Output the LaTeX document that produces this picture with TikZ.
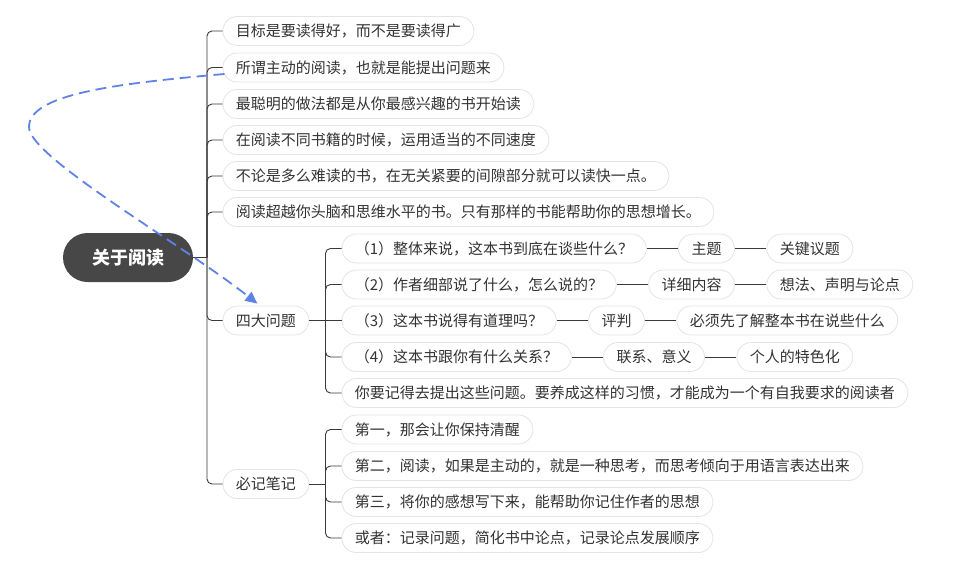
\documentclass[tikz,border=0pt]{standalone}
\usepackage{fontspec}
\setmainfont{Noto Sans CJK SC}
\usetikzlibrary{arrows.meta,positioning}
\definecolor{rootgray}{HTML}{474747}
\definecolor{pillborder}{HTML}{E4E4E4}
\definecolor{txtgray}{HTML}{333333}
\definecolor{linegray}{HTML}{3A3A3A}
\definecolor{dashblue}{HTML}{5E82E6}
\tikzset{
  x=1pt,y=-1pt,
  rootbox/.style={fill=rootgray,rounded corners=24.5pt,minimum width=130pt,minimum height=49pt,
    text=white,font=\fontsize{18}{20}\selectfont\bfseries,inner sep=0pt,text height=16pt,text depth=2pt},
  pill/.style={draw=pillborder,line width=0.8pt,fill=white,rounded corners=14.5pt,minimum height=29pt,
    inner xsep=13pt,inner ysep=0pt,text=txtgray,font=\fontsize{15}{18}\selectfont,
    text height=13pt,text depth=2pt,anchor=west},
  conn/.style={draw=linegray,line width=0.9pt,rounded corners=5pt},
  chain/.style={right=31.5pt of #1},
  link/.style={draw=dashblue,line width=1.8pt,dash pattern=on 11pt off 6pt,
    -{Triangle[length=12pt,width=11pt]}}
}
\begin{document}
\begin{tikzpicture}
\useasboundingbox (0,0) rectangle (960,576);
% root
\node[rootbox] (root) at (128,257.5) {关于阅读};
\coordinate (j0) at (207,257.5);
% level 1
\node[pill] (n1) at (222.5,31) {目标是要读得好，而不是要读得广};
\node[pill] (n2) at (222.5,67.5) {所谓主动的阅读，也就是能提出问题来};
\node[pill] (n3) at (222.5,104) {最聪明的做法都是从你最感兴趣的书开始读};
\node[pill] (n4) at (222.5,140) {在阅读不同书籍的时候，运用适当的不同速度};
\node[pill] (n5) at (222.5,176) {不论是多么难读的书，在无关紧要的间隙部分就可以读快一点。};
\node[pill] (n6) at (222.5,212) {阅读超越你头脑和思维水平的书。只有那样的书能帮助你的思想增长。};
\node[pill] (q) at (222.5,320.5) {四大问题};
\node[pill] (m) at (222.5,484) {必记笔记};
% level 2 under q
\coordinate (j1) at (325.5,320.5);
\node[pill] (q1) at (341.5,248.5) {（1）整体来说，这本书到底在谈些什么？};
\node[pill] (q2) at (341.5,284.5) {（2）作者细部说了什么，怎么说的？};
\node[pill] (q3) at (341.5,320.5) {（3）这本书说得有道理吗？};
\node[pill] (q4) at (341.5,357) {（4）这本书跟你有什么关系？};
\node[pill] (q5) at (341.5,393) {你要记得去提出这些问题。要养成这样的习惯，才能成为一个有自我要求的阅读者};
% level 3
\node[pill,chain=q1] (q1a) {主题};
\node[pill,chain=q1a] (q1b) {关键议题};
\node[pill,chain=q2] (q2a) {详细内容};
\node[pill,chain=q2a] (q2b) {想法、声明与论点};
\node[pill,chain=q3] (q3a) {评判};
\node[pill,chain=q3a] (q3b) {必须先了解整本书在说些什么};
\node[pill,chain=q4] (q4a) {联系、意义};
\node[pill,chain=q4a] (q4b) {个人的特色化};
% level 2 under m
\coordinate (j2) at (325.5,484);
\node[pill] (m1) at (341.5,429.5) {第一，那会让你保持清醒};
\node[pill] (m2) at (341.5,466) {第二，阅读，如果是主动的，就是一种思考，而思考倾向于用语言表达出来};
\node[pill] (m3) at (341.5,502) {第三，将你的感想写下来，能帮助你记住作者的思想};
\node[pill] (m4) at (341.5,538) {或者：记录问题，简化书中论点，记录论点发展顺序};
% connectors
\draw[conn] (root.east) -- (j0);
\foreach \n in {n1,n2,n3,n4,n5,n6,q,m} \draw[conn] (j0) |- (\n.west);
\draw[conn] (q.east) -- (j1);
\foreach \n in {q1,q2,q4,q5} \draw[conn] (j1) |- (\n.west);
\draw[conn] (j1) -- (q3.west);
\draw[conn] (m.east) -- (j2);
\foreach \n in {m1,m2,m3,m4} \draw[conn] (j2) |- (\n.west);
\draw[conn] (q1.east) -- (q1a.west);
\draw[conn] (q1a.east) -- (q1b.west);
\draw[conn] (q2.east) -- (q2a.west);
\draw[conn] (q2a.east) -- (q2b.west);
\draw[conn] (q3.east) -- (q3a.west);
\draw[conn] (q3a.east) -- (q3b.west);
\draw[conn] (q4.east) -- (q4a.west);
\draw[conn] (q4a.east) -- (q4b.west);
% dashed relation
\coordinate (bend) at (29,127);
\draw[link] ([xshift=2pt,yshift=-6.5pt]n2.west) .. controls (110,84) and (29,95) .. (bend)
  .. controls (29,157) and (179,242) .. ([xshift=-8.5pt,yshift=2pt]q.north);
\end{tikzpicture}
\end{document}
